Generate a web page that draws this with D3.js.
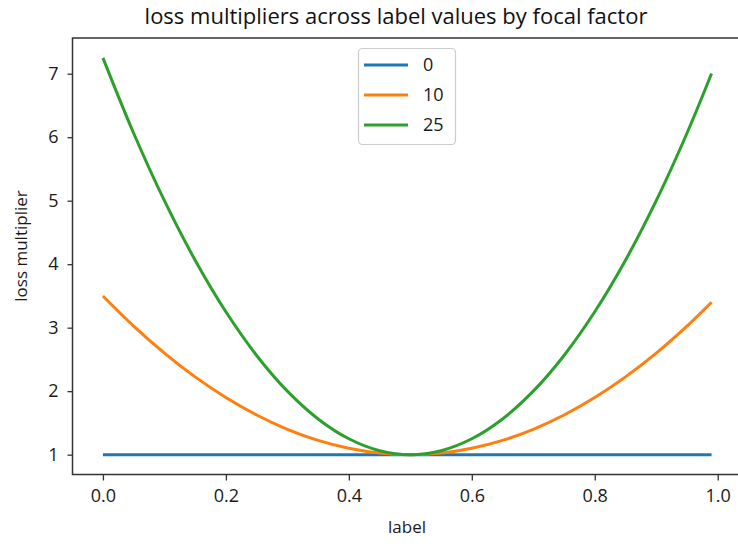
<!DOCTYPE html>
<html><head><meta charset="utf-8">
<script src="https://cdn.jsdelivr.net/npm/d3@7"></script>
<style>html,body{margin:0;padding:0;background:#fff;}svg{display:block;}</style>
</head><body>
<svg id="chart" width="738" height="544"></svg>
<script>
const labels = [0,0.05,0.10,0.15,0.20,0.25,0.30,0.35,0.40,0.45,0.50,0.55,0.60,0.65,0.70,0.75,0.80,0.85,0.90,0.95,0.99];
const factor0  = [1,1,1,1,1,1,1,1,1,1,1,1,1,1,1,1,1,1,1,1,1];
const factor10 = [3.5,3.025,2.6,2.225,1.9,1.625,1.4,1.225,1.1,1.025,1,1.025,1.1,1.225,1.4,1.625,1.9,2.225,2.6,3.025,3.401];
const factor25 = [7.25,6.0625,5.0,4.0625,3.25,2.5625,2.0,1.5625,1.25,1.0625,1,1.0625,1.25,1.5625,2.0,2.5625,3.25,4.0625,5.0,6.0625,7.0025];
const seriesNames = ["0","10","25"];
const seriesColors = ["#1f77b4","#ff7f0e","#2ca02c"];
const xTicks = [0,0.2,0.4,0.6,0.8,1.0];
const yTicks = [1,2,3,4,5,6,7];

const svg = d3.select("#chart");
const font = "'Open Sans', sans-serif";
const L = 72.5, R = 742, T = 38, B = 474.5;
const x = d3.scaleLinear().domain([-0.0495, 1.0395]).range([L, R]);
const y = d3.scaleLinear().domain([0.6875, 7.5625]).range([B, T]);

const series = [factor0, factor10, factor25];
const line = d3.line().x((d,i)=>x(labels[i])).y(d=>y(d)).curve(d3.curveCatmullRom.alpha(0.5));
series.forEach((s,k)=>{
  svg.append("path").datum(s).attr("d", line).attr("fill","none")
    .attr("stroke", seriesColors[k]).attr("stroke-width", 3);
});

// spines
svg.append("rect").attr("x",L).attr("y",T).attr("width",R-L).attr("height",B-T)
  .attr("fill","none").attr("stroke","#333").attr("stroke-width",1.5);

const xAxis = svg.append("g").attr("transform",`translate(0,${B})`)
  .call(d3.axisBottom(x).tickValues(xTicks).tickFormat(d3.format(".1f")).tickSize(6).tickPadding(9));
const yAxis = svg.append("g").attr("transform",`translate(${L},0)`)
  .call(d3.axisLeft(y).tickValues(yTicks).tickFormat(d3.format("d")).tickSize(5).tickPadding(9));
[xAxis,yAxis].forEach(a=>{
  a.select(".domain").remove();
  a.selectAll(".tick line").attr("stroke","#333").attr("stroke-width",1.3);
  a.selectAll("text").attr("fill","#1a1a1a").style("font-family",font).style("font-size","18px");
});

svg.append("text").attr("x",396).attr("y",24).attr("text-anchor","middle")
  .style("font-family",font).style("font-size","22px").attr("fill","#111")
  .text("loss multipliers across label values by focal factor");
svg.append("text").attr("x",407).attr("y",533).attr("text-anchor","middle")
  .style("font-family",font).style("font-size","17px").attr("fill","#1a1a1a").text("label");
svg.append("text").attr("transform","translate(27,246) rotate(-90)").attr("text-anchor","middle")
  .style("font-family",font).style("font-size","17px").attr("fill","#1a1a1a").text("loss multiplier");

// legend
const lg = svg.append("g");
lg.append("rect").attr("x",358.5).attr("y",48.5).attr("width",97).attr("height",96).attr("rx",4)
  .attr("fill","#fff").attr("fill-opacity",0.8).attr("stroke","#ccc").attr("stroke-width",1.2);
seriesNames.forEach((n,k)=>{
  const yy = 65 + k*30;
  lg.append("line").attr("x1",364).attr("x2",408).attr("y1",yy).attr("y2",yy)
    .attr("stroke",seriesColors[k]).attr("stroke-width",3);
  lg.append("text").attr("x",423).attr("y",yy+6).style("font-family",font).style("font-size","18px")
    .attr("fill","#1a1a1a").text(n);
});
</script>
</body></html>
